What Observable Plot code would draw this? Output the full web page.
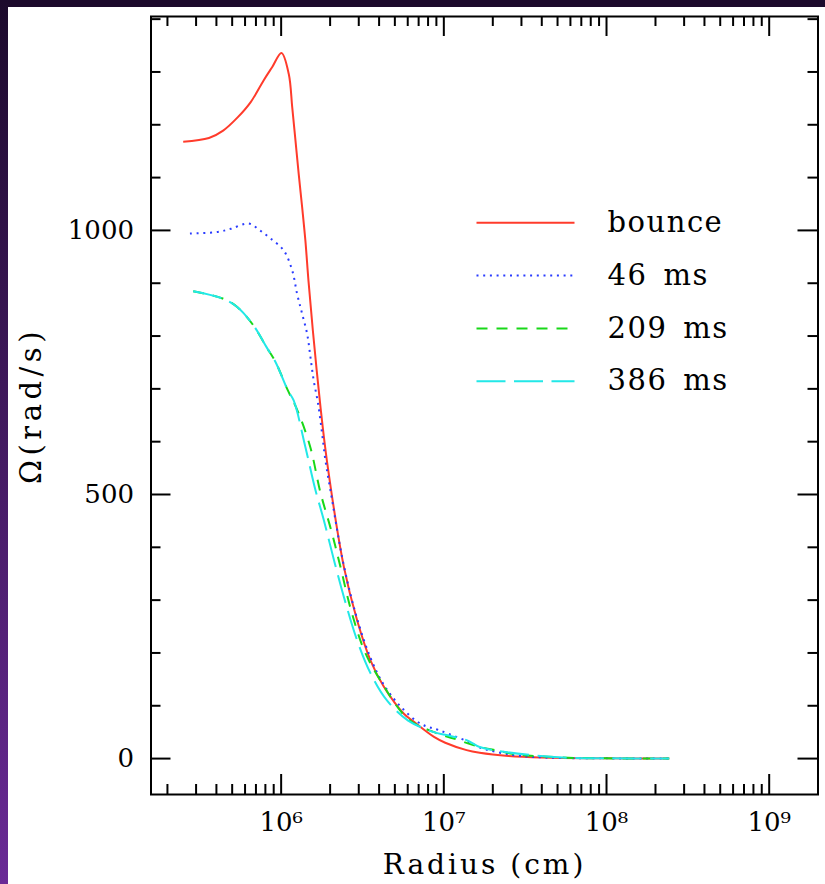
<!DOCTYPE html>
<html><head><meta charset="utf-8">
<script src="https://cdn.jsdelivr.net/npm/d3@7"></script>
<script src="https://cdn.jsdelivr.net/npm/@observablehq/plot@0.6"></script>
<style>
html,body{margin:0;padding:0;width:825px;height:884px;overflow:hidden;background:#1c0a2c;}
#edge{position:absolute;left:0;top:0;width:8px;height:884px;background:linear-gradient(to bottom,#1c0a2c,#6a2a96);}
#panel{position:absolute;left:8px;top:7px;width:817px;height:877px;background:#fff;}
#chart{position:absolute;left:0;top:0;}
</style></head><body>
<div id="edge"></div><div id="panel"></div><div id="chart"></div>
<script>
// ---- data (radius in cm, angular velocity in rad/s) ----
const seriesNames = ["bounce", "46\u2002ms", "209\u2002ms", "386\u2002ms"];

const bounceRadius = [2.5e5, 3.6e5, 4.4e5, 5.4e5, 6.5e5, 7.8e5, 8.8e5, 1.005e6, 1.114e6, 1.17e6, 1.225e6, 1.282e6, 1.346e6, 1.409e6, 1.472e6, 1.567e6, 1.746e6, 1.919e6, 2.43e6, 2.93e6, 3.54e6, 4.28e6, 5.68e6, 6.46e6, 8.7e6, 1.02e7, 1.38e7, 1.66e7, 2.5e7, 4.0e7, 1.0e8, 2.43e8];
const bounceOmega  = [1168, 1175, 1189, 1214, 1243, 1284, 1309, 1336, 1296, 1233, 1170, 1107, 1044, 981, 905, 810, 665, 560, 363, 262, 186, 136, 85, 71, 41, 30, 16, 11, 5, 2, 0.5, 0];

const ms46Radius = [2.75e5, 4.07e5, 4.9e5, 6.3e5, 7.4e5, 8.59e5, 1.037e6, 1.17e6, 1.253e6, 1.346e6, 1.445e6, 1.514e6, 1.585e6, 1.687e6, 1.786e6, 1.871e6, 2.009e6, 2.43e6, 2.93e6, 3.55e6, 4.27e6, 5.37e6, 7.2e6, 9.5e6, 1.51e7, 1.66e7, 2.63e7, 4.17e7, 1.0e8, 2.43e8];
const ms46Omega  = [994, 997, 1003, 1013, 1000, 985, 962, 924, 880, 842, 804, 760, 716, 672, 615, 565, 508, 365, 265, 190, 140, 100, 66, 53, 28, 21, 7, 2, 0.5, 0];

const ms209Radius = [2.88e5, 4.37e5, 5.37e5, 6.76e5, 8.13e5, 9.23e5, 1.10e6, 1.26e6, 1.51e6, 1.74e6, 2.04e6, 2.29e6, 2.69e6, 3.24e6, 4.07e6, 6.03e6, 8.71e6, 1.15e7, 1.66e7, 2.24e7, 2.63e7, 5.37e7, 1.0e8, 2.43e8];
const ms209Omega  = [885, 871, 855, 820, 779, 751, 697, 659, 590, 505, 430, 369, 281, 205, 148, 75, 50, 38, 22, 14, 9, 2, 0.5, 0];

const ms386Radius = [2.88e5, 4.37e5, 5.37e5, 6.76e5, 8.13e5, 9.23e5, 1.10e6, 1.194e6, 1.409e6, 1.626e6, 1.82e6, 2.14e6, 2.43e6, 2.93e6, 3.55e6, 4.47e6, 6.03e6, 8.71e6, 1.02e7, 1.38e7, 1.66e7, 2.45e7, 5.37e7, 1.0e8, 2.43e8];
const ms386Omega  = [885, 871, 855, 820, 779, 751, 697, 678, 590, 508, 454, 369, 306, 224, 161, 110, 72, 50, 45, 35, 22, 12, 2, 0.5, 0];

const xMajorTicks = [1e6, 1e7, 1e8, 1e9];
const xTickLabels = ["10\u2076", "10\u2077", "10\u2078", "10\u2079"];
const yMajorTicks = [0, 500, 1000];
const yTickLabels = ["0", "500", "1000"];
const yMinorTicks = [100, 200, 300, 400, 600, 700, 800, 900, 1100, 1200, 1300, 1400];
const xMinorTicks = [];
for (const d of [1e5, 1e6, 1e7, 1e8, 1e9]) for (let k = 2; k <= 9; k++) {
  const v = k * d; if (v > 10 ** 5.2 && v < 10 ** 9.3) xMinorTicks.push(v);
}
const axisTitleX = "Radius (cm)";
const axisTitleY = "\u03A9(rad/s)";

// ---- styles ----
const seriesColors = ["#ff3b2b", "#2a3cff", "#18d818", "#22e8e8"];
const seriesDash = [null, "2,4.7", "11,9", "29,8.5"];
const seriesRadius = [bounceRadius, ms46Radius, ms209Radius, ms386Radius];
const seriesOmega = [bounceOmega, ms46Omega, ms209Omega, ms386Omega];

const W = 825, H = 884;
const mL = 150.5, mR = 7.5, mT = 16, mB = 90;
const fw = W - mL - mR, fh = H - mT - mB;
const major = 20, minor = 10;

const rows = seriesNames.map((name, s) =>
  seriesRadius[s].map((r, i) => ({name, r, w: seriesOmega[s][i]})));

const hline = {draw(ctx, l) { ctx.moveTo(0, 0); ctx.lineTo(0, -l); }};

const marks = [];
// curves
rows.forEach((data, s) => {
  marks.push(Plot.line(data, {x: "r", y: "w", stroke: seriesColors[s], strokeWidth: 2,
    strokeDasharray: seriesDash[s], strokeLinecap: "butt", curve: "catmull-rom"}));
});
// ticks (inward, all four sides)
const tk = {stroke: "black", strokeWidth: 2};
marks.push(
  Plot.ruleX(xMajorTicks, {x: d => d, insetTop: fh - major, ...tk}),
  Plot.ruleX(xMajorTicks, {x: d => d, insetBottom: fh - major, ...tk}),
  Plot.ruleX(xMinorTicks, {x: d => d, insetTop: fh - minor, ...tk}),
  Plot.ruleX(xMinorTicks, {x: d => d, insetBottom: fh - minor, ...tk}),
  Plot.ruleY(yMajorTicks, {y: d => d, insetRight: fw - major, ...tk}),
  Plot.ruleY(yMajorTicks, {y: d => d, insetLeft: fw - major, ...tk}),
  Plot.ruleY(yMinorTicks, {y: d => d, insetRight: fw - minor, ...tk}),
  Plot.ruleY(yMinorTicks, {y: d => d, insetLeft: fw - minor, ...tk}),
  Plot.frame({stroke: "black", strokeWidth: 2})
);
// tick labels
marks.push(
  Plot.axisX(xMajorTicks, {tickSize: 0, tickPadding: 18, fontSize: 26, fill: "black",
    tickFormat: d => xTickLabels[xMajorTicks.indexOf(d)], label: null}),
  Plot.axisY(yMajorTicks, {tickSize: 0, tickPadding: 17, fontSize: 26, fill: "black",
    tickFormat: d => yTickLabels[yMajorTicks.indexOf(d)], label: null})
);
// axis titles
marks.push(
  Plot.text([axisTitleX], {frameAnchor: "bottom", dy: 71, fontSize: 28, fill: "black",
    lineAnchor: "middle", textAnchor: "middle"}),
  Plot.text([axisTitleY], {frameAnchor: "left", dx: -119, rotate: -90, fontSize: 29, fill: "black",
    lineAnchor: "middle", textAnchor: "middle"})
);
// legend
seriesNames.forEach((name, s) => {
  const dy = 206.3 + s * 52.8;
  marks.push(
    Plot.vector([0], {frameAnchor: "top-left", dx: 325.5, dy, length: 98, rotate: 90, anchor: "start",
      shape: hline, stroke: seriesColors[s], strokeWidth: 2, strokeDasharray: seriesDash[s], strokeLinecap: "butt"}),
    Plot.text([name], {frameAnchor: "top-left", dx: 456.5, dy, fontSize: 29, fill: "black",
      textAnchor: "start", lineAnchor: "middle"})
  );
});

const chart = Plot.plot({
  width: W, height: H,
  marginLeft: mL, marginRight: mR, marginTop: mT, marginBottom: mB,
  x: {type: "log", domain: [10 ** 5.2, 10 ** 9.3]},
  y: {domain: [-68, 1405]},
  style: {background: "transparent", fontFamily: "'DejaVu Serif', serif", color: "black", overflow: "visible"},
  marks
});
d3.select(chart).selectAll("text").each(function () {
  const t = this.textContent;
  if (seriesNames.includes(t)) this.setAttribute("letter-spacing", 1.5);
  else if (t === axisTitleX) this.setAttribute("letter-spacing", 3);
  else if (t === axisTitleY) this.setAttribute("letter-spacing", 4.5);
});
document.getElementById("chart").appendChild(chart);
</script>
</body></html>
